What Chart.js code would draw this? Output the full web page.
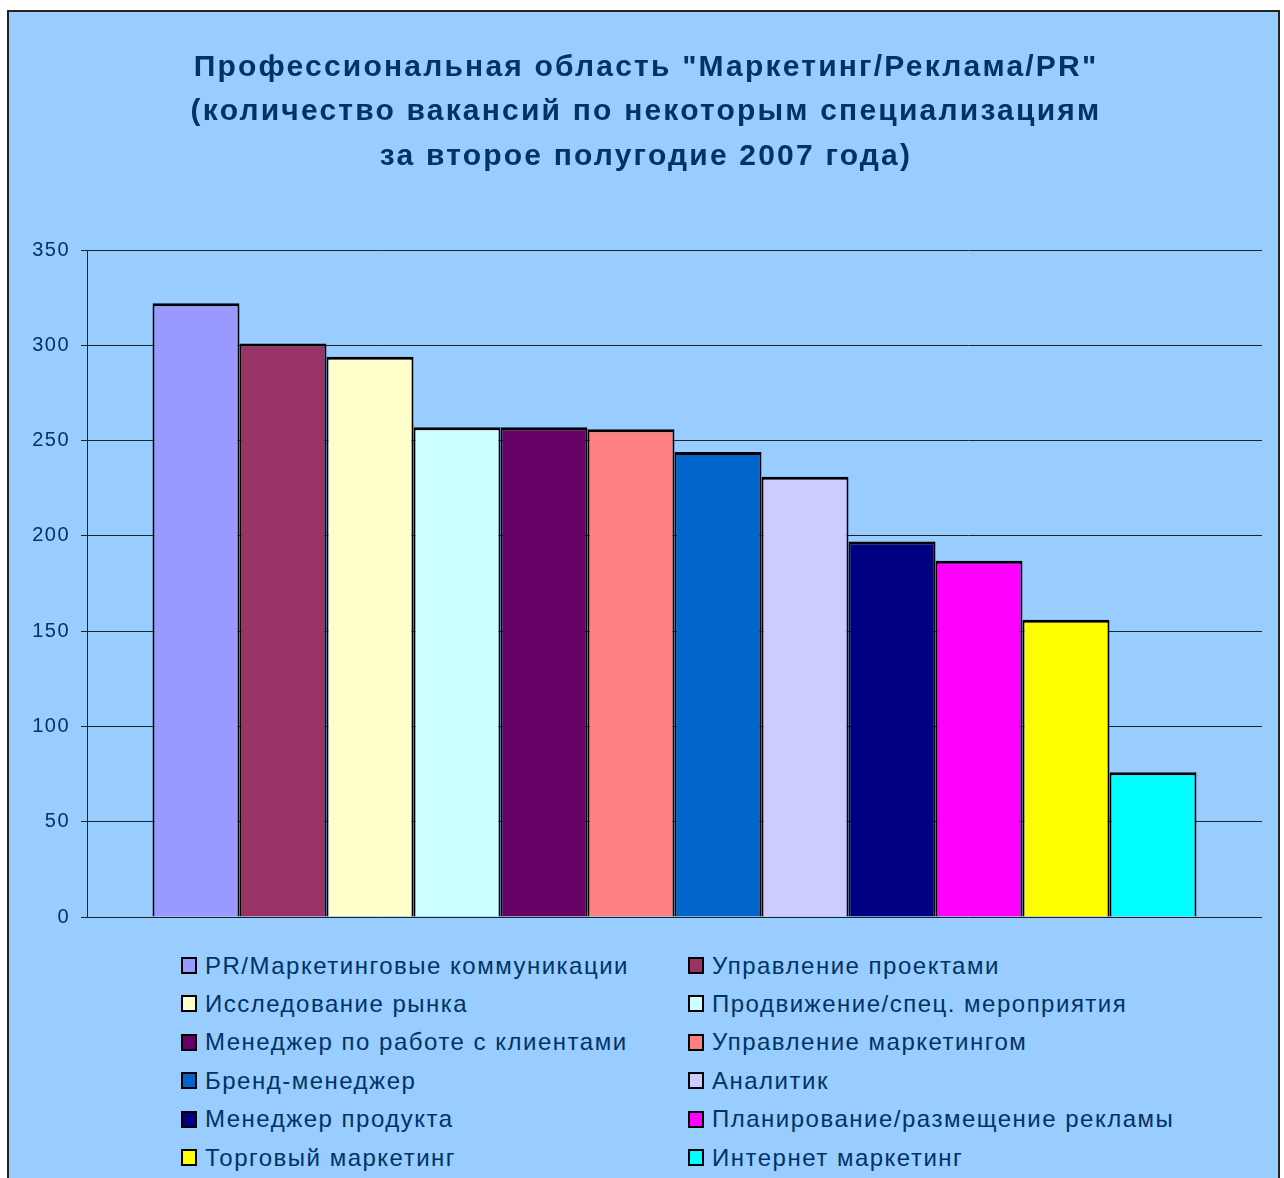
<!DOCTYPE html>
<html>
<head>
<meta charset="utf-8">
<script src="https://cdn.jsdelivr.net/npm/chart.js@4.4.0/dist/chart.umd.min.js"></script>
<style>
    body { margin: 0; background: #fff; font-family: "Liberation Sans", Arial, sans-serif; }
    #frame { position: absolute; left: 7px; top: 10px; width: 1269px; height: 1200px; border: 2px solid #222; background: #99CCFF; }
    #chartbar { position: absolute; left: 0; top: 0; }
    #legend { position: absolute; left: 0; top: 0; width: 100%; }
    .item { position: absolute; height: 20px; display: flex; align-items: center; color: #003366; font-size: 24px; letter-spacing: 1.5px; white-space: nowrap; }
    .box { width: 12px; height: 13px; border: 2px solid #000; margin-right: 8px; flex: none; }
</style>
</head>
<body>
<div id="frame">
    <canvas id="chartbar" width="1269" height="930"></canvas>
    <div id="legend"></div>
</div>
<script>
const specialisations = ["PR/Маркетинговые коммуникации", "Управление проектами", "Исследование рынка", "Продвижение/спец. мероприятия", "Менеджер по работе с клиентами", "Управление маркетингом", "Бренд-менеджер", "Аналитик", "Менеджер продукта", "Планирование/размещение рекламы", "Торговый маркетинг", "Интернет маркетинг"];
const vacancies = [322, 301, 294, 257, 257, 256, 244, 231, 197, 187, 156, 76];
const colours = ["#9999FF", "#993366", "#FFFFCC", "#CCFFFF", "#660066", "#FF8080", "#0066CC", "#CCCCFF", "#000080", "#FF00FF", "#FFFF00", "#00FFFF"];
const yTicks = [0, 50, 100, 150, 200, 250, 300, 350];
const titleLines = ['Профессиональная область "Маркетинг/Реклама/PR"', '(количество вакансий по некоторым специализациям', 'за второе полугодие 2007 года)'];

const NAVY = '#003366';
const CHART = document.getElementById('chartbar');

const dat = {
    labels: [''],
    datasets: specialisations.map((name, i) => ({
        label: name,
        data: [vacancies[i]],
        backgroundColor: colours[i],
        borderColor: '#000',
        borderWidth: { top: 3, left: 2, right: 2, bottom: 0 },
        borderSkipped: false,
        categoryPercentage: 0.8885,
        barPercentage: 1,
    }))
};

// ticks are drawn a little spaced out in the original
const spacing = {
    id: 'spacing',
    beforeDraw(chart) { chart.ctx.letterSpacing = '1.5px'; }
};

let barChart = new Chart(CHART, {
    type: 'bar',
    data: dat,
    plugins: [spacing],
    options: {
        responsive: false,
        animation: false,
        layout: { padding: { left: 21, right: 16, top: 0, bottom: 25 } },
        plugins: {
            legend: { display: false },
            tooltip: { enabled: false },
            title: {
                display: true,
                text: titleLines,
                color: NAVY,
                font: { family: '"Liberation Sans", Arial, sans-serif', size: 30, weight: 'bold', lineHeight: 44.5 / 30 },
                padding: { top: 33, bottom: 71.5 },
            },
        },
        scales: {
            x: { display: false },
            y: {
                min: 0,
                max: 350,
                afterBuildTicks: (scale) => { scale.ticks = yTicks.map(v => ({ value: v })); },
                afterFit: (scale) => { scale.width = 57; },
                ticks: { color: NAVY, padding: 11, font: { family: '"Liberation Sans", Arial, sans-serif', size: 20 } },
                grid: { color: '#222', lineWidth: 1, tickLength: 6 },
                border: { color: '#222', width: 1 },
            },
        },
    },
});

// title is spaced wider: set 2.2px only while the title box draws
const titleBox = barChart.titleBlock;
const origDraw = titleBox.draw.bind(titleBox);
titleBox.draw = function () {
    const ctx = this.ctx;
    const old = ctx.letterSpacing;
    ctx.letterSpacing = '2.2px';
    origDraw();
    ctx.letterSpacing = old;
};
barChart.draw();

// legend in two columns
const legend = document.getElementById('legend');
barChart.data.datasets.forEach((ds, i) => {
    const el = document.createElement('div');
    el.className = 'item';
    el.style.left = (i % 2 === 0 ? 172 : 679) + 'px';
    el.style.top = (943.5 + Math.floor(i / 2) * 38.4) + 'px';
    el.innerHTML = '<span class="box" style="background:' + ds.backgroundColor + '"></span><span></span>';
    el.lastChild.textContent = ds.label;
    legend.appendChild(el);
});
</script>
</body>
</html>
